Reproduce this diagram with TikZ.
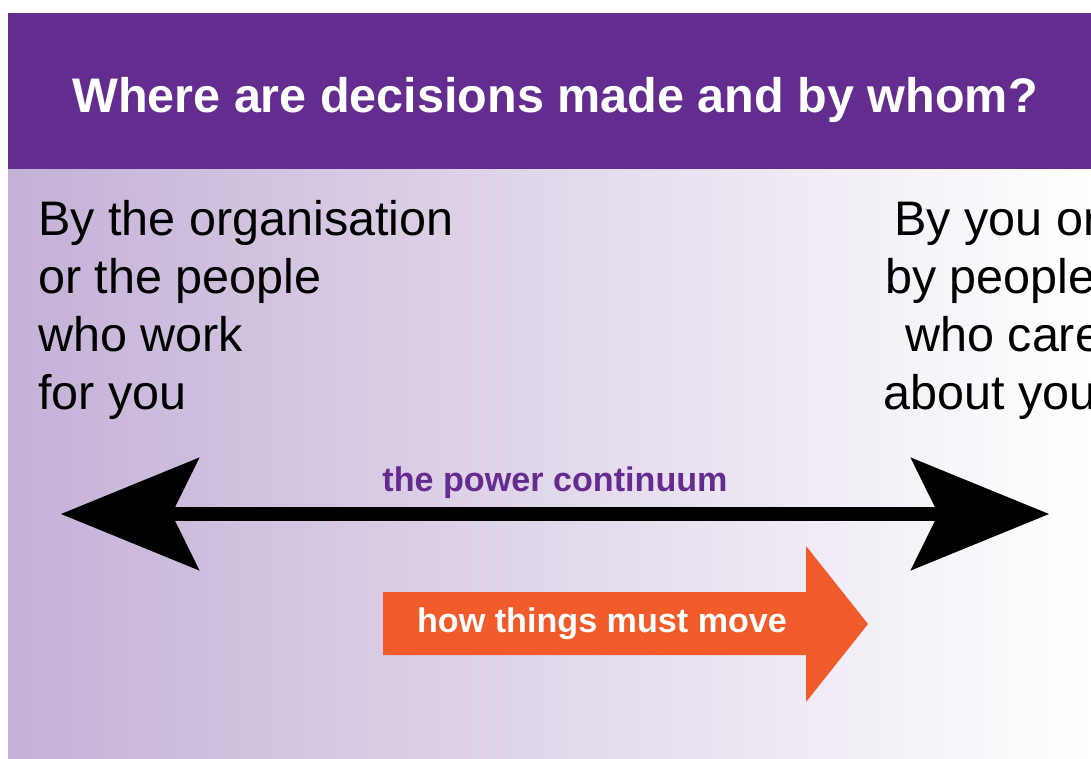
\documentclass[tikz,border=0pt]{standalone}
\usepackage{fontspec}
\setmainfont{Liberation Sans}
\usetikzlibrary{arrows.meta}

\definecolor{headpurple}{HTML}{652C90}
\definecolor{lilac}{HTML}{C4B1D7}
\definecolor{moveorange}{HTML}{F15A29}

\tikzset{
  bigtext/.style={inner sep=0pt, font=\fontsize{36.4}{43.5}\selectfont},
  smallbold/.style={inner sep=0pt, font=\fontsize{25.6}{30}\selectfont\bfseries},
  powertip/.tip={Stealth[length=104pt,width=85pt,inset=21pt,line width=0pt]}
}

\begin{document}
\begin{tikzpicture}[x=0.75pt,y=0.75pt,yscale=-1,xscale=1]
\useasboundingbox (0,0) rectangle (1091,758);
\clip (0,0) rectangle (1091,758);

%Shape: Rectangle [header band]
\fill[headpurple] (8,13) rectangle (1091,169);
%Shape: Rectangle [shaded body]
\shade[left color=lilac, right color=white] (8,169) rectangle (1091,758);

% Text Node
\node[bigtext, anchor=base, text=white, font=\fontsize{36.4}{43.5}\selectfont\bfseries] (title) at (555,112) {Where are decisions made and by whom?};

% Text Node: left column
\foreach \t [count=\i from 0] in {By the organisation, or the people, who work, for you}
  \node[bigtext, anchor=base west] (org\i) at (38,235+58*\i) {\t};
% Text Node: right column
\foreach \x/\t [count=\i from 0] in {894/By you or, 885/by people, 905/who care, 883/about you}
  \node[bigtext, anchor=base west] (you\i) at (\x,235+58*\i) {\t};

%Shape: Double Arrow
\coordinate (orgEnd) at (61,514);
\coordinate (youEnd) at (1049,514);
\draw[line width=10.5pt, {powertip}-{powertip}] (orgEnd) -- (youEnd);

% Text Node
\node[smallbold, anchor=base, text=headpurple] (continuum) at (555,491) {the power continuum};

%Shape: Right Arrow
\fill[moveorange] (383,592) -- (806,592) -- (806,546) -- (868,624) -- (806,702) -- (806,655) -- (383,655) -- cycle;

% Text Node
\node[smallbold, anchor=base, text=white] (move) at (602,632) {how things must move};
\end{tikzpicture}
\end{document}
